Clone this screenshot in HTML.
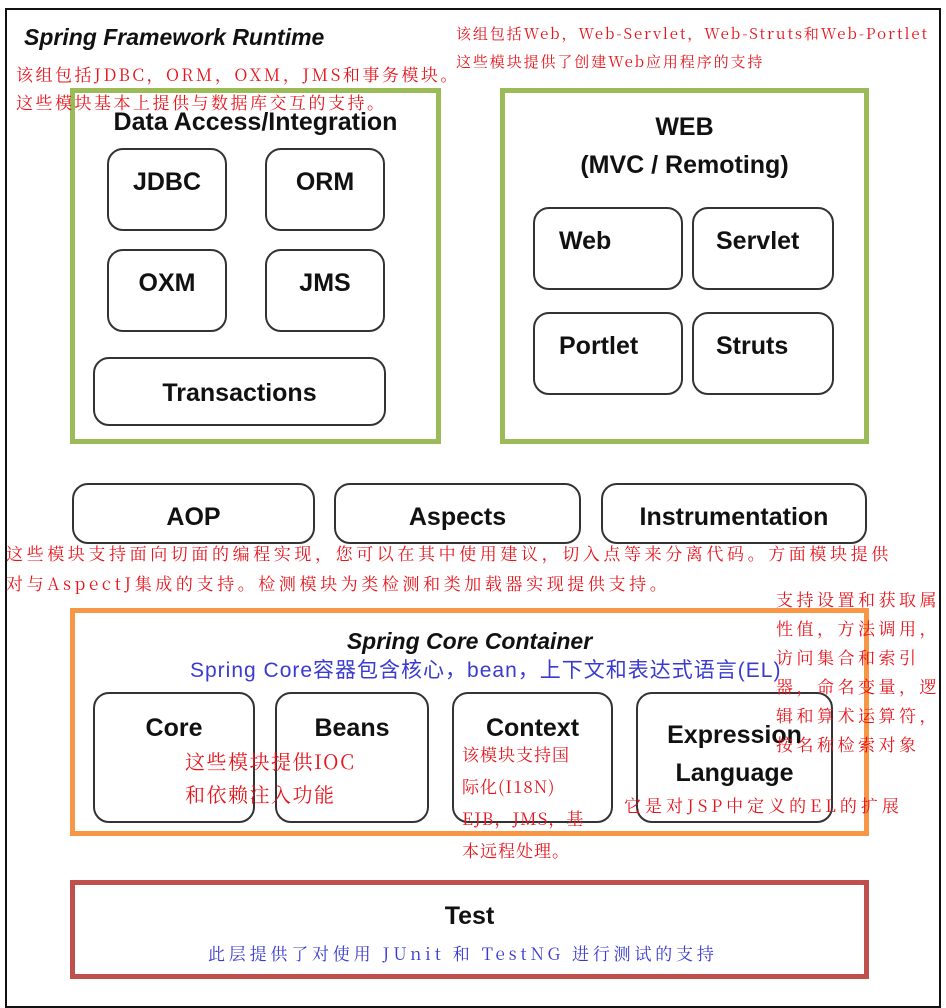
<!DOCTYPE html>
<html><head><meta charset="utf-8"><style>
body{margin:0;width:946px;height:993px;background:#fff;position:relative;overflow:hidden;font-family:"Liberation Sans","Noto Sans CJK SC",sans-serif}
div{position:absolute;box-sizing:border-box}
.f{border:2px solid #111}
.g{border:5px solid #9bbb59}
.r{border:2px solid #333;border-radius:16px;background:#fff;font-weight:bold;font-size:25px;color:#111;text-align:center}
.t{font-weight:bold;font-size:25px;color:#111;text-align:center}
.red{color:#e8141c;font-family:"Noto Serif CJK SC","Liberation Serif",serif;font-size:16px;line-height:26px;white-space:nowrap}
.blue{color:#3a3ad0;font-size:19px;white-space:nowrap}
</style></head><body>
<div class="f" style="left:5px;top:8px;width:936px;height:1000px"></div>
<div style="left:24px;top:24px;font-size:23px;font-weight:bold;font-style:italic;color:#111">Spring Framework Runtime</div>

<div class="g" style="left:70px;top:88px;width:371px;height:356px"></div>
<div class="t" style="left:70px;top:108px;width:371px">Data Access/Integration</div>
<div class="r" style="left:107px;top:148px;width:120px;height:83px;padding-top:18px">JDBC</div>
<div class="r" style="left:265px;top:148px;width:120px;height:83px;padding-top:18px">ORM</div>
<div class="r" style="left:107px;top:249px;width:120px;height:83px;padding-top:18px">OXM</div>
<div class="r" style="left:265px;top:249px;width:120px;height:83px;padding-top:18px">JMS</div>
<div class="r" style="left:93px;top:357px;width:293px;height:69px;padding-top:20px">Transactions</div>

<div class="g" style="left:500px;top:88px;width:369px;height:356px"></div>
<div class="t" style="left:500px;top:108px;width:369px;line-height:38px">WEB<br>(MVC / Remoting)</div>
<div class="r" style="left:533px;top:207px;width:150px;height:83px;padding-top:18px;text-align:left;padding-left:24px">Web</div>
<div class="r" style="left:692px;top:207px;width:142px;height:83px;padding-top:18px;text-align:left;padding-left:22px">Servlet</div>
<div class="r" style="left:533px;top:312px;width:150px;height:83px;padding-top:18px;text-align:left;padding-left:24px">Portlet</div>
<div class="r" style="left:692px;top:312px;width:142px;height:83px;padding-top:18px;text-align:left;padding-left:22px">Struts</div>

<div class="r" style="left:72px;top:483px;width:243px;height:61px;padding-top:18px">AOP</div>
<div class="r" style="left:334px;top:483px;width:247px;height:61px;padding-top:18px">Aspects</div>
<div class="r" style="left:601px;top:483px;width:266px;height:61px;padding-top:18px">Instrumentation</div>

<div style="left:70px;top:608px;width:799px;height:228px;border:5px solid #f79646"></div>
<div class="t" style="left:70px;top:628px;width:799px;font-style:italic;font-size:23px">Spring Core Container</div>
<div class="blue" style="left:190px;top:654px;font-size:21px;letter-spacing:1px">Spring Core容器包含核心，bean，上下文和表达式语言(EL)</div>
<div class="r" style="left:93px;top:692px;width:162px;height:131px;padding-top:20px">Core</div>
<div class="r" style="left:275px;top:692px;width:154px;height:131px;padding-top:20px">Beans</div>
<div class="r" style="left:452px;top:692px;width:161px;height:131px;padding-top:20px">Context</div>
<div class="r" style="left:636px;top:692px;width:197px;height:131px;padding-top:22px;line-height:38px">Expression<br>Language</div>

<div style="left:70px;top:880px;width:799px;height:99px;border:5px solid #c0504d"></div>
<div class="t" style="left:70px;top:902px;width:799px">Test</div>
<div class="blue" style="left:208px;top:940px;font-size:17px;letter-spacing:3.8px;font-family:'Noto Serif CJK SC','Liberation Serif',serif">此层提供了对使用 JUnit 和 TestNG 进行测试的支持</div>

<div class="red" style="left:16px;top:60px;font-size:17px;letter-spacing:2.5px;line-height:28px">该组包括JDBC，ORM，OXM，JMS和事务模块。<br>这些模块基本上提供与数据库交互的支持。</div>
<div class="red" style="left:456px;top:20px;font-size:15px;letter-spacing:1.9px;line-height:28px">该组包括Web，Web-Servlet，Web-Struts和Web-Portlet<br>这些模块提供了创建Web应用程序的支持</div>
<div class="red" style="left:6px;top:538px;font-size:17px;letter-spacing:3.6px;line-height:30px">这些模块支持面向切面的编程实现，您可以在其中使用建议，切入点等来分离代码。方面模块提供<br>对与AspectJ集成的支持。检测模块为类检测和类加载器实现提供支持。</div>
<div class="red" style="left:776px;top:584px;font-size:17px;letter-spacing:3.5px;line-height:29px">支持设置和获取属<br>性值，方法调用，<br>访问集合和索引<br>器，命名变量，逻<br>辑和算术运算符，<br>按名称检索对象</div>
<div class="red" style="left:185px;top:744px;font-size:20px;letter-spacing:1.5px;line-height:33px">这些模块提供IOC<br>和依赖注入功能</div>
<div class="red" style="left:462px;top:738px;font-size:17px;letter-spacing:1px;line-height:32px">该模块支持国<br>际化(I18N)<br>EJB，JMS，基<br>本远程处理。</div>
<div class="red" style="left:624px;top:792px;font-size:17px;letter-spacing:4px">它是对JSP中定义的EL的扩展</div>
</body></html>
